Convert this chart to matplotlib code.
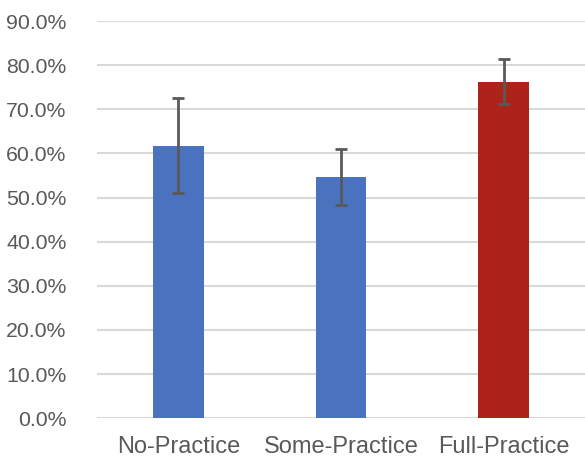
import matplotlib
matplotlib.use('Agg')
import matplotlib.pyplot as plt
from matplotlib.ticker import PercentFormatter

# 数据
groups = ['No-Practice', 'Some-Practice', 'Full-Practice']
means = [61.8, 54.7, 76.3]
errors = [10.7, 6.3, 5.0]
colors = ['#4a72be', '#4a72be', '#ad2219']

plt.rcParams['font.family'] = ['Liberation Sans', 'DejaVu Sans']

fig = plt.figure(figsize=(5.85, 4.59), dpi=100)
ax = fig.add_axes([0.166, 0.089, 0.834, 0.865])

ax.bar(range(len(groups)), means, width=0.31, color=colors,
       yerr=errors, error_kw=dict(ecolor='#595959', elinewidth=2, capsize=4, capthick=2),
       zorder=3)

ax.set_ylim(0, 90)
ax.set_xlim(-0.5, 2.5)
ax.set_yticks(range(0, 91, 10))
ax.yaxis.set_major_formatter(PercentFormatter(decimals=1))
ax.set_xticks(range(len(groups)))
ax.set_xticklabels(groups, fontsize=17, color='#595959')
ax.tick_params(axis='y', labelsize=15.3, labelcolor='#595959', length=0, pad=22)
ax.tick_params(axis='x', length=0, pad=13)

ax.grid(axis='y', color='#d9d9d9', linewidth=1.5, zorder=0)
for s in ax.spines.values():
    s.set_visible(False)

fig.savefig('out.png', dpi=100)
